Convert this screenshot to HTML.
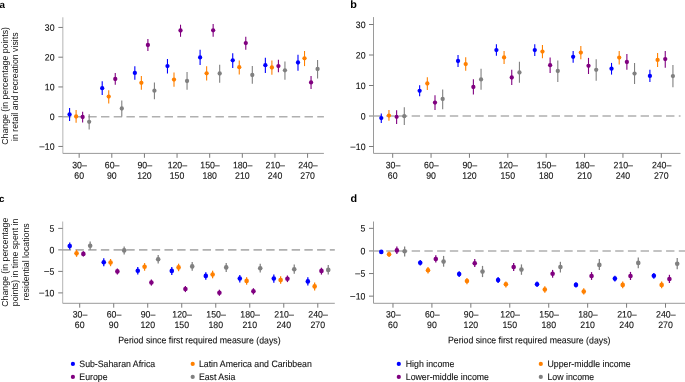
<!DOCTYPE html>
<html><head><meta charset="utf-8"><style>
html,body{margin:0;padding:0;background:#fff;}
svg{display:block;}
#w{will-change:transform;width:685px;height:382px;overflow:hidden;}
text{font-family:"Liberation Sans",sans-serif;}
</style></head><body>
<div id="w"><svg width="685" height="382" viewBox="0 0 685 382" font-family="Liberation Sans, sans-serif" font-size="8.76" fill="#111111">
<style>text{stroke:#111111;stroke-width:0.1px;} text.r{stroke:none;}</style>
<rect width="685" height="382" fill="#fff"/>
<path d="M62.85 17.3V153.4" fill="none" stroke="#b4b4b4" stroke-width="1"/>
<path d="M62.85 153.4H323.9" fill="none" stroke="#9a9a9a" stroke-width="1"/>
<path d="M58.35 27.45H62.85" stroke="#7a7a7a" stroke-width="1"/>
<text transform="translate(54.55 30.7) rotate(0.03) scale(1 1.07)" text-anchor="end">30</text>
<path d="M58.35 57.2H62.85" stroke="#7a7a7a" stroke-width="1"/>
<text transform="translate(54.55 60.45) rotate(0.03) scale(1 1.07)" text-anchor="end">20</text>
<path d="M58.35 86.95H62.85" stroke="#7a7a7a" stroke-width="1"/>
<text transform="translate(54.55 90.2) rotate(0.03) scale(1 1.07)" text-anchor="end">10</text>
<path d="M58.35 116.7H62.85" stroke="#7a7a7a" stroke-width="1"/>
<text transform="translate(54.55 119.95) rotate(0.03) scale(1 1.07)" text-anchor="end">0</text>
<path d="M58.35 146.45H62.85" stroke="#7a7a7a" stroke-width="1"/>
<text transform="translate(54.55 149.7) rotate(0.03) scale(1 1.07)" text-anchor="end"><tspan dy="-0.5">–</tspan><tspan dy="0.5" dx="0.5">10</tspan></text>
<path d="M79.17 153.4V157.8" stroke="#7a7a7a" stroke-width="1"/>
<text transform="translate(79.47 168.25) rotate(0.03) scale(1 1.07)" text-anchor="middle">30–</text>
<text transform="translate(79.17 178.7) rotate(0.03) scale(1 1.07)" text-anchor="middle">60</text>
<path d="M111.8 153.4V157.8" stroke="#7a7a7a" stroke-width="1"/>
<text transform="translate(112.1 168.25) rotate(0.03) scale(1 1.07)" text-anchor="middle">60–</text>
<text transform="translate(111.8 178.7) rotate(0.03) scale(1 1.07)" text-anchor="middle">90</text>
<path d="M144.43 153.4V157.8" stroke="#7a7a7a" stroke-width="1"/>
<text transform="translate(144.73 168.25) rotate(0.03) scale(1 1.07)" text-anchor="middle">90–</text>
<text transform="translate(144.43 178.7) rotate(0.03) scale(1 1.07)" text-anchor="middle">120</text>
<path d="M177.06 153.4V157.8" stroke="#7a7a7a" stroke-width="1"/>
<text transform="translate(177.36 168.25) rotate(0.03) scale(1 1.07)" text-anchor="middle">120–</text>
<text transform="translate(177.06 178.7) rotate(0.03) scale(1 1.07)" text-anchor="middle">150</text>
<path d="M209.69 153.4V157.8" stroke="#7a7a7a" stroke-width="1"/>
<text transform="translate(209.99 168.25) rotate(0.03) scale(1 1.07)" text-anchor="middle">150–</text>
<text transform="translate(209.69 178.7) rotate(0.03) scale(1 1.07)" text-anchor="middle">180</text>
<path d="M242.32 153.4V157.8" stroke="#7a7a7a" stroke-width="1"/>
<text transform="translate(242.62 168.25) rotate(0.03) scale(1 1.07)" text-anchor="middle">180–</text>
<text transform="translate(242.32 178.7) rotate(0.03) scale(1 1.07)" text-anchor="middle">210</text>
<path d="M274.95 153.4V157.8" stroke="#7a7a7a" stroke-width="1"/>
<text transform="translate(275.25 168.25) rotate(0.03) scale(1 1.07)" text-anchor="middle">210–</text>
<text transform="translate(274.95 178.7) rotate(0.03) scale(1 1.07)" text-anchor="middle">240</text>
<path d="M307.58 153.4V157.8" stroke="#7a7a7a" stroke-width="1"/>
<text transform="translate(307.88 168.25) rotate(0.03) scale(1 1.07)" text-anchor="middle">240–</text>
<text transform="translate(307.58 178.7) rotate(0.03) scale(1 1.07)" text-anchor="middle">270</text>
<path d="M62.85 116.7H323.9" stroke="#b0b0b0" stroke-width="1.6" stroke-dasharray="8.4 4.32"/>
<path d="M69.58 108.1V120.9" stroke="#0000ff" stroke-width="1.1"/>
<circle cx="69.58" cy="114.4" r="2.15" fill="#0000ff"/>
<path d="M76.1 110.1V122.7" stroke="#ff8000" stroke-width="1.1"/>
<circle cx="76.1" cy="116.5" r="2.15" fill="#ff8000"/>
<path d="M82.63 111.7V122.5" stroke="#800080" stroke-width="1.1"/>
<circle cx="82.63" cy="117" r="2.15" fill="#800080"/>
<path d="M89.16 114.2V129.6" stroke="#808080" stroke-width="1.1"/>
<circle cx="89.16" cy="121.8" r="2.15" fill="#808080"/>
<path d="M102.21 81.3V95.1" stroke="#0000ff" stroke-width="1.1"/>
<circle cx="102.21" cy="88.2" r="2.15" fill="#0000ff"/>
<path d="M108.73 90.3V103.5" stroke="#ff8000" stroke-width="1.1"/>
<circle cx="108.73" cy="96.6" r="2.15" fill="#ff8000"/>
<path d="M115.26 73.1V84.7" stroke="#800080" stroke-width="1.1"/>
<circle cx="115.26" cy="79" r="2.15" fill="#800080"/>
<path d="M121.79 100.4V116.5" stroke="#808080" stroke-width="1.1"/>
<circle cx="121.79" cy="108.5" r="2.15" fill="#808080"/>
<path d="M134.84 66.2V79.8" stroke="#0000ff" stroke-width="1.1"/>
<circle cx="134.84" cy="72.9" r="2.15" fill="#0000ff"/>
<path d="M141.36 76.1V89.7" stroke="#ff8000" stroke-width="1.1"/>
<circle cx="141.36" cy="82.8" r="2.15" fill="#ff8000"/>
<path d="M147.89 38.9V51" stroke="#800080" stroke-width="1.1"/>
<circle cx="147.89" cy="45" r="2.15" fill="#800080"/>
<path d="M154.42 82.4V99.3" stroke="#808080" stroke-width="1.1"/>
<circle cx="154.42" cy="90.7" r="2.15" fill="#808080"/>
<path d="M167.47 59V73.5" stroke="#0000ff" stroke-width="1.1"/>
<circle cx="167.47" cy="66.1" r="2.15" fill="#0000ff"/>
<path d="M174 72.4V86.7" stroke="#ff8000" stroke-width="1.1"/>
<circle cx="174" cy="79.6" r="2.15" fill="#ff8000"/>
<path d="M180.52 24.7V36.8" stroke="#800080" stroke-width="1.1"/>
<circle cx="180.52" cy="30.5" r="2.15" fill="#800080"/>
<path d="M187.05 72V89.8" stroke="#808080" stroke-width="1.1"/>
<circle cx="187.05" cy="81" r="2.15" fill="#808080"/>
<path d="M200.1 49.8V64.9" stroke="#0000ff" stroke-width="1.1"/>
<circle cx="200.1" cy="57.4" r="2.15" fill="#0000ff"/>
<path d="M206.63 66.2V80.6" stroke="#ff8000" stroke-width="1.1"/>
<circle cx="206.63" cy="73.3" r="2.15" fill="#ff8000"/>
<path d="M213.15 24V36.8" stroke="#800080" stroke-width="1.1"/>
<circle cx="213.15" cy="30.3" r="2.15" fill="#800080"/>
<path d="M219.68 64.7V82.7" stroke="#808080" stroke-width="1.1"/>
<circle cx="219.68" cy="73.5" r="2.15" fill="#808080"/>
<path d="M232.73 53.2V67.9" stroke="#0000ff" stroke-width="1.1"/>
<circle cx="232.73" cy="60.3" r="2.15" fill="#0000ff"/>
<path d="M239.26 60.5V74.6" stroke="#ff8000" stroke-width="1.1"/>
<circle cx="239.26" cy="67.2" r="2.15" fill="#ff8000"/>
<path d="M245.78 36.8V49.8" stroke="#800080" stroke-width="1.1"/>
<circle cx="245.78" cy="43.1" r="2.15" fill="#800080"/>
<path d="M252.31 66V83.8" stroke="#808080" stroke-width="1.1"/>
<circle cx="252.31" cy="75" r="2.15" fill="#808080"/>
<path d="M265.36 57.7V73" stroke="#0000ff" stroke-width="1.1"/>
<circle cx="265.36" cy="65.2" r="2.15" fill="#0000ff"/>
<path d="M271.89 60.6V74.7" stroke="#ff8000" stroke-width="1.1"/>
<circle cx="271.89" cy="67.5" r="2.15" fill="#ff8000"/>
<path d="M278.42 59.8V72.3" stroke="#800080" stroke-width="1.1"/>
<circle cx="278.42" cy="66.1" r="2.15" fill="#800080"/>
<path d="M284.94 61.4V79.7" stroke="#808080" stroke-width="1.1"/>
<circle cx="284.94" cy="70.3" r="2.15" fill="#808080"/>
<path d="M297.99 54.7V70.7" stroke="#0000ff" stroke-width="1.1"/>
<circle cx="297.99" cy="62.5" r="2.15" fill="#0000ff"/>
<path d="M304.52 51V66.1" stroke="#ff8000" stroke-width="1.1"/>
<circle cx="304.52" cy="58.3" r="2.15" fill="#ff8000"/>
<path d="M311.05 76.1V89.1" stroke="#800080" stroke-width="1.1"/>
<circle cx="311.05" cy="82.4" r="2.15" fill="#800080"/>
<path d="M317.57 60V78.6" stroke="#808080" stroke-width="1.1"/>
<circle cx="317.57" cy="69" r="2.15" fill="#808080"/>
<path d="M373.5 17.1V153.4" fill="none" stroke="#9a9a9a" stroke-width="1"/>
<path d="M373.5 153.4H680.5" fill="none" stroke="#9a9a9a" stroke-width="1"/>
<path d="M369 24.5H373.5" stroke="#7a7a7a" stroke-width="1"/>
<text transform="translate(365.6 28.05) rotate(0.03) scale(1 1.07)" text-anchor="end">30</text>
<path d="M369 55H373.5" stroke="#7a7a7a" stroke-width="1"/>
<text transform="translate(365.6 58.55) rotate(0.03) scale(1 1.07)" text-anchor="end">20</text>
<path d="M369 85.5H373.5" stroke="#7a7a7a" stroke-width="1"/>
<text transform="translate(365.6 89.05) rotate(0.03) scale(1 1.07)" text-anchor="end">10</text>
<path d="M369 116H373.5" stroke="#7a7a7a" stroke-width="1"/>
<text transform="translate(365.6 119.55) rotate(0.03) scale(1 1.07)" text-anchor="end">0</text>
<path d="M369 146.5H373.5" stroke="#7a7a7a" stroke-width="1"/>
<text transform="translate(365.6 150.05) rotate(0.03) scale(1 1.07)" text-anchor="end"><tspan dy="-0.5">–</tspan><tspan dy="0.5" dx="0.5">10</tspan></text>
<path d="M392.69 153.4V157.8" stroke="#7a7a7a" stroke-width="1"/>
<text transform="translate(392.99 168.25) rotate(0.03) scale(1 1.07)" text-anchor="middle">30–</text>
<text transform="translate(392.69 178.7) rotate(0.03) scale(1 1.07)" text-anchor="middle">60</text>
<path d="M431.06 153.4V157.8" stroke="#7a7a7a" stroke-width="1"/>
<text transform="translate(431.36 168.25) rotate(0.03) scale(1 1.07)" text-anchor="middle">60–</text>
<text transform="translate(431.06 178.7) rotate(0.03) scale(1 1.07)" text-anchor="middle">90</text>
<path d="M469.44 153.4V157.8" stroke="#7a7a7a" stroke-width="1"/>
<text transform="translate(469.74 168.25) rotate(0.03) scale(1 1.07)" text-anchor="middle">90–</text>
<text transform="translate(469.44 178.7) rotate(0.03) scale(1 1.07)" text-anchor="middle">120</text>
<path d="M507.81 153.4V157.8" stroke="#7a7a7a" stroke-width="1"/>
<text transform="translate(508.11 168.25) rotate(0.03) scale(1 1.07)" text-anchor="middle">120–</text>
<text transform="translate(507.81 178.7) rotate(0.03) scale(1 1.07)" text-anchor="middle">150</text>
<path d="M546.19 153.4V157.8" stroke="#7a7a7a" stroke-width="1"/>
<text transform="translate(546.49 168.25) rotate(0.03) scale(1 1.07)" text-anchor="middle">150–</text>
<text transform="translate(546.19 178.7) rotate(0.03) scale(1 1.07)" text-anchor="middle">180</text>
<path d="M584.56 153.4V157.8" stroke="#7a7a7a" stroke-width="1"/>
<text transform="translate(584.86 168.25) rotate(0.03) scale(1 1.07)" text-anchor="middle">180–</text>
<text transform="translate(584.56 178.7) rotate(0.03) scale(1 1.07)" text-anchor="middle">210</text>
<path d="M622.94 153.4V157.8" stroke="#7a7a7a" stroke-width="1"/>
<text transform="translate(623.24 168.25) rotate(0.03) scale(1 1.07)" text-anchor="middle">210–</text>
<text transform="translate(622.94 178.7) rotate(0.03) scale(1 1.07)" text-anchor="middle">240</text>
<path d="M661.31 153.4V157.8" stroke="#7a7a7a" stroke-width="1"/>
<text transform="translate(661.61 168.25) rotate(0.03) scale(1 1.07)" text-anchor="middle">240–</text>
<text transform="translate(661.31 178.7) rotate(0.03) scale(1 1.07)" text-anchor="middle">270</text>
<path d="M373.5 116H680.5" stroke="#b0b0b0" stroke-width="1.6" stroke-dasharray="8.4 4.32"/>
<path d="M381.28 113.5V122.9" stroke="#0000ff" stroke-width="1.1"/>
<circle cx="381.28" cy="118.1" r="2.15" fill="#0000ff"/>
<path d="M388.95 109.9V120.8" stroke="#ff8000" stroke-width="1.1"/>
<circle cx="388.95" cy="115.6" r="2.15" fill="#ff8000"/>
<path d="M396.62 110.3V123.9" stroke="#800080" stroke-width="1.1"/>
<circle cx="396.62" cy="116.8" r="2.15" fill="#800080"/>
<path d="M404.3 107.2V125" stroke="#808080" stroke-width="1.1"/>
<circle cx="404.3" cy="116.2" r="2.15" fill="#808080"/>
<path d="M419.65 85.2V96.3" stroke="#0000ff" stroke-width="1.1"/>
<circle cx="419.65" cy="90.8" r="2.15" fill="#0000ff"/>
<path d="M427.33 77.2V90" stroke="#ff8000" stroke-width="1.1"/>
<circle cx="427.33" cy="83.5" r="2.15" fill="#ff8000"/>
<path d="M435 95.2V109.9" stroke="#800080" stroke-width="1.1"/>
<circle cx="435" cy="102.6" r="2.15" fill="#800080"/>
<path d="M442.68 89.4V109.3" stroke="#808080" stroke-width="1.1"/>
<circle cx="442.68" cy="99" r="2.15" fill="#808080"/>
<path d="M458.03 55.1V66.9" stroke="#0000ff" stroke-width="1.1"/>
<circle cx="458.03" cy="61" r="2.15" fill="#0000ff"/>
<path d="M465.7 57.2V70.8" stroke="#ff8000" stroke-width="1.1"/>
<circle cx="465.7" cy="64.1" r="2.15" fill="#ff8000"/>
<path d="M473.38 79.2V94.5" stroke="#800080" stroke-width="1.1"/>
<circle cx="473.38" cy="87" r="2.15" fill="#800080"/>
<path d="M481.05 68.7V89.7" stroke="#808080" stroke-width="1.1"/>
<circle cx="481.05" cy="79.4" r="2.15" fill="#808080"/>
<path d="M496.4 44.2V55.8" stroke="#0000ff" stroke-width="1.1"/>
<circle cx="496.4" cy="50.1" r="2.15" fill="#0000ff"/>
<path d="M504.08 50.9V64.1" stroke="#ff8000" stroke-width="1.1"/>
<circle cx="504.08" cy="57.4" r="2.15" fill="#ff8000"/>
<path d="M511.75 69.8V85.1" stroke="#800080" stroke-width="1.1"/>
<circle cx="511.75" cy="77.5" r="2.15" fill="#800080"/>
<path d="M519.43 61.8V82.8" stroke="#808080" stroke-width="1.1"/>
<circle cx="519.43" cy="72.5" r="2.15" fill="#808080"/>
<path d="M534.77 44.2V56" stroke="#0000ff" stroke-width="1.1"/>
<circle cx="534.77" cy="50.1" r="2.15" fill="#0000ff"/>
<path d="M542.45 45.1V58.3" stroke="#ff8000" stroke-width="1.1"/>
<circle cx="542.45" cy="51.6" r="2.15" fill="#ff8000"/>
<path d="M550.12 57.4V72.9" stroke="#800080" stroke-width="1.1"/>
<circle cx="550.12" cy="65.2" r="2.15" fill="#800080"/>
<path d="M557.8 60.4V81.9" stroke="#808080" stroke-width="1.1"/>
<circle cx="557.8" cy="71" r="2.15" fill="#808080"/>
<path d="M573.15 50.9V62.7" stroke="#0000ff" stroke-width="1.1"/>
<circle cx="573.15" cy="56.8" r="2.15" fill="#0000ff"/>
<path d="M580.83 45.9V59.3" stroke="#ff8000" stroke-width="1.1"/>
<circle cx="580.83" cy="52.6" r="2.15" fill="#ff8000"/>
<path d="M588.5 57.9V74" stroke="#800080" stroke-width="1.1"/>
<circle cx="588.5" cy="65.8" r="2.15" fill="#800080"/>
<path d="M596.18 59.3V80.7" stroke="#808080" stroke-width="1.1"/>
<circle cx="596.18" cy="69.8" r="2.15" fill="#808080"/>
<path d="M611.52 62.9V74.6" stroke="#0000ff" stroke-width="1.1"/>
<circle cx="611.52" cy="68.7" r="2.15" fill="#0000ff"/>
<path d="M619.2 50.9V64.5" stroke="#ff8000" stroke-width="1.1"/>
<circle cx="619.2" cy="57.6" r="2.15" fill="#ff8000"/>
<path d="M626.88 54.1V69.8" stroke="#800080" stroke-width="1.1"/>
<circle cx="626.88" cy="62" r="2.15" fill="#800080"/>
<path d="M634.55 62.9V84" stroke="#808080" stroke-width="1.1"/>
<circle cx="634.55" cy="73.6" r="2.15" fill="#808080"/>
<path d="M649.9 69.8V81.9" stroke="#0000ff" stroke-width="1.1"/>
<circle cx="649.9" cy="75.9" r="2.15" fill="#0000ff"/>
<path d="M657.58 53V67.1" stroke="#ff8000" stroke-width="1.1"/>
<circle cx="657.58" cy="59.9" r="2.15" fill="#ff8000"/>
<path d="M665.25 50.9V67.7" stroke="#800080" stroke-width="1.1"/>
<circle cx="665.25" cy="59.1" r="2.15" fill="#800080"/>
<path d="M672.93 65V87.2" stroke="#808080" stroke-width="1.1"/>
<circle cx="672.93" cy="76.1" r="2.15" fill="#808080"/>
<path d="M62.7 221.5V303.3" fill="none" stroke="#b4b4b4" stroke-width="1"/>
<path d="M62.7 303.3H334.8" fill="none" stroke="#9a9a9a" stroke-width="1"/>
<path d="M58.2 228.4H62.7" stroke="#7a7a7a" stroke-width="1"/>
<text transform="translate(54.4 231.65) rotate(0.03) scale(1 1.07)" text-anchor="end">5</text>
<path d="M58.2 249.9H62.7" stroke="#7a7a7a" stroke-width="1"/>
<text transform="translate(54.4 253.15) rotate(0.03) scale(1 1.07)" text-anchor="end">0</text>
<path d="M58.2 271.4H62.7" stroke="#7a7a7a" stroke-width="1"/>
<text transform="translate(54.4 274.65) rotate(0.03) scale(1 1.07)" text-anchor="end"><tspan dy="-0.5">–</tspan><tspan dy="0.5" dx="0.5">5</tspan></text>
<path d="M58.2 292.9H62.7" stroke="#7a7a7a" stroke-width="1"/>
<text transform="translate(54.4 296.15) rotate(0.03) scale(1 1.07)" text-anchor="end"><tspan dy="-0.5">–</tspan><tspan dy="0.5" dx="0.5">10</tspan></text>
<path d="M79.71 303.3V307.7" stroke="#7a7a7a" stroke-width="1"/>
<text transform="translate(80.01 317.45) rotate(0.03) scale(1 1.07)" text-anchor="middle">30–</text>
<text transform="translate(79.71 327.95) rotate(0.03) scale(1 1.07)" text-anchor="middle">60</text>
<path d="M113.72 303.3V307.7" stroke="#7a7a7a" stroke-width="1"/>
<text transform="translate(114.02 317.45) rotate(0.03) scale(1 1.07)" text-anchor="middle">60–</text>
<text transform="translate(113.72 327.95) rotate(0.03) scale(1 1.07)" text-anchor="middle">90</text>
<path d="M147.73 303.3V307.7" stroke="#7a7a7a" stroke-width="1"/>
<text transform="translate(148.03 317.45) rotate(0.03) scale(1 1.07)" text-anchor="middle">90–</text>
<text transform="translate(147.73 327.95) rotate(0.03) scale(1 1.07)" text-anchor="middle">120</text>
<path d="M181.74 303.3V307.7" stroke="#7a7a7a" stroke-width="1"/>
<text transform="translate(182.04 317.45) rotate(0.03) scale(1 1.07)" text-anchor="middle">120–</text>
<text transform="translate(181.74 327.95) rotate(0.03) scale(1 1.07)" text-anchor="middle">150</text>
<path d="M215.76 303.3V307.7" stroke="#7a7a7a" stroke-width="1"/>
<text transform="translate(216.06 317.45) rotate(0.03) scale(1 1.07)" text-anchor="middle">150–</text>
<text transform="translate(215.76 327.95) rotate(0.03) scale(1 1.07)" text-anchor="middle">180</text>
<path d="M249.77 303.3V307.7" stroke="#7a7a7a" stroke-width="1"/>
<text transform="translate(250.07 317.45) rotate(0.03) scale(1 1.07)" text-anchor="middle">180–</text>
<text transform="translate(249.77 327.95) rotate(0.03) scale(1 1.07)" text-anchor="middle">210</text>
<path d="M283.78 303.3V307.7" stroke="#7a7a7a" stroke-width="1"/>
<text transform="translate(284.08 317.45) rotate(0.03) scale(1 1.07)" text-anchor="middle">210–</text>
<text transform="translate(283.78 327.95) rotate(0.03) scale(1 1.07)" text-anchor="middle">240</text>
<path d="M317.79 303.3V307.7" stroke="#7a7a7a" stroke-width="1"/>
<text transform="translate(318.09 317.45) rotate(0.03) scale(1 1.07)" text-anchor="middle">240–</text>
<text transform="translate(317.79 327.95) rotate(0.03) scale(1 1.07)" text-anchor="middle">270</text>
<path d="M62.7 249.9H334.8" stroke="#b0b0b0" stroke-width="1.6" stroke-dasharray="8.4 4.32"/>
<path d="M69.75 242.4V249.4" stroke="#0000ff" stroke-width="1.25"/>
<circle cx="69.75" cy="246" r="2.3" fill="#0000ff"/>
<path d="M76.56 249.8V256.8" stroke="#ff8000" stroke-width="1.25"/>
<circle cx="76.56" cy="253.3" r="2.3" fill="#ff8000"/>
<path d="M83.36 251.2V256.6" stroke="#800080" stroke-width="1.25"/>
<circle cx="83.36" cy="253.9" r="2.3" fill="#800080"/>
<path d="M90.16 241.5V249.8" stroke="#808080" stroke-width="1.25"/>
<circle cx="90.16" cy="245.7" r="2.3" fill="#808080"/>
<path d="M103.77 258.3V266.2" stroke="#0000ff" stroke-width="1.25"/>
<circle cx="103.77" cy="262.2" r="2.3" fill="#0000ff"/>
<path d="M110.57 259V266.2" stroke="#ff8000" stroke-width="1.25"/>
<circle cx="110.57" cy="262.5" r="2.3" fill="#ff8000"/>
<path d="M117.37 268.5V274.5" stroke="#800080" stroke-width="1.25"/>
<circle cx="117.37" cy="271.4" r="2.3" fill="#800080"/>
<path d="M124.17 246.5V254.6" stroke="#808080" stroke-width="1.25"/>
<circle cx="124.17" cy="250.4" r="2.3" fill="#808080"/>
<path d="M137.78 267V274.6" stroke="#0000ff" stroke-width="1.25"/>
<circle cx="137.78" cy="270.7" r="2.3" fill="#0000ff"/>
<path d="M144.58 263.1V270.7" stroke="#ff8000" stroke-width="1.25"/>
<circle cx="144.58" cy="266.8" r="2.3" fill="#ff8000"/>
<path d="M151.38 279.5V285.6" stroke="#800080" stroke-width="1.25"/>
<circle cx="151.38" cy="282.5" r="2.3" fill="#800080"/>
<path d="M158.19 255V263.5" stroke="#808080" stroke-width="1.25"/>
<circle cx="158.19" cy="259.2" r="2.3" fill="#808080"/>
<path d="M171.79 267V274.9" stroke="#0000ff" stroke-width="1.25"/>
<circle cx="171.79" cy="270.9" r="2.3" fill="#0000ff"/>
<path d="M178.59 263.7V271.2" stroke="#ff8000" stroke-width="1.25"/>
<circle cx="178.59" cy="267.4" r="2.3" fill="#ff8000"/>
<path d="M185.4 286V292.1" stroke="#800080" stroke-width="1.25"/>
<circle cx="185.4" cy="289" r="2.3" fill="#800080"/>
<path d="M192.2 262V270.7" stroke="#808080" stroke-width="1.25"/>
<circle cx="192.2" cy="266.4" r="2.3" fill="#808080"/>
<path d="M205.8 272.3V279.8" stroke="#0000ff" stroke-width="1.25"/>
<circle cx="205.8" cy="275.9" r="2.3" fill="#0000ff"/>
<path d="M212.61 270.7V278.3" stroke="#ff8000" stroke-width="1.25"/>
<circle cx="212.61" cy="274.5" r="2.3" fill="#ff8000"/>
<path d="M219.41 289.7V295.8" stroke="#800080" stroke-width="1.25"/>
<circle cx="219.41" cy="292.7" r="2.3" fill="#800080"/>
<path d="M226.21 263.1V272" stroke="#808080" stroke-width="1.25"/>
<circle cx="226.21" cy="267.4" r="2.3" fill="#808080"/>
<path d="M239.81 274.9V282.5" stroke="#0000ff" stroke-width="1.25"/>
<circle cx="239.81" cy="278.5" r="2.3" fill="#0000ff"/>
<path d="M246.62 277.2V284.7" stroke="#ff8000" stroke-width="1.25"/>
<circle cx="246.62" cy="280.9" r="2.3" fill="#ff8000"/>
<path d="M253.42 288.2V294.5" stroke="#800080" stroke-width="1.25"/>
<circle cx="253.42" cy="291.2" r="2.3" fill="#800080"/>
<path d="M260.22 263.7V272.5" stroke="#808080" stroke-width="1.25"/>
<circle cx="260.22" cy="268.3" r="2.3" fill="#808080"/>
<path d="M273.83 274.6V282.7" stroke="#0000ff" stroke-width="1.25"/>
<circle cx="273.83" cy="278.5" r="2.3" fill="#0000ff"/>
<path d="M280.63 276.2V283.8" stroke="#ff8000" stroke-width="1.25"/>
<circle cx="280.63" cy="280.1" r="2.3" fill="#ff8000"/>
<path d="M287.43 275.5V282.1" stroke="#800080" stroke-width="1.25"/>
<circle cx="287.43" cy="278.8" r="2.3" fill="#800080"/>
<path d="M294.24 264.4V273.8" stroke="#808080" stroke-width="1.25"/>
<circle cx="294.24" cy="269.2" r="2.3" fill="#808080"/>
<path d="M307.84 277.2V285.6" stroke="#0000ff" stroke-width="1.25"/>
<circle cx="307.84" cy="281.4" r="2.3" fill="#0000ff"/>
<path d="M314.64 282.5V290.6" stroke="#ff8000" stroke-width="1.25"/>
<circle cx="314.64" cy="286.4" r="2.3" fill="#ff8000"/>
<path d="M321.45 267.7V274.6" stroke="#800080" stroke-width="1.25"/>
<circle cx="321.45" cy="270.9" r="2.3" fill="#800080"/>
<path d="M328.25 265.1V274.6" stroke="#808080" stroke-width="1.25"/>
<circle cx="328.25" cy="269.9" r="2.3" fill="#808080"/>
<path d="M373.5 221.5V303.3" fill="none" stroke="#9a9a9a" stroke-width="1"/>
<path d="M373.5 303.3H685" fill="none" stroke="#9a9a9a" stroke-width="1"/>
<path d="M369 228.35H373.5" stroke="#7a7a7a" stroke-width="1"/>
<text transform="translate(365.4 231.6) rotate(0.03) scale(1 1.07)" text-anchor="end">5</text>
<path d="M369 250.95H373.5" stroke="#7a7a7a" stroke-width="1"/>
<text transform="translate(365.4 254.2) rotate(0.03) scale(1 1.07)" text-anchor="end">0</text>
<path d="M369 273.55H373.5" stroke="#7a7a7a" stroke-width="1"/>
<text transform="translate(365.4 276.8) rotate(0.03) scale(1 1.07)" text-anchor="end"><tspan dy="-0.5">–</tspan><tspan dy="0.5" dx="0.5">5</tspan></text>
<path d="M369 296.15H373.5" stroke="#7a7a7a" stroke-width="1"/>
<text transform="translate(365.4 299.4) rotate(0.03) scale(1 1.07)" text-anchor="end"><tspan dy="-0.5">–</tspan><tspan dy="0.5" dx="0.5">10</tspan></text>
<path d="M392.97 303.3V307.7" stroke="#7a7a7a" stroke-width="1"/>
<text transform="translate(393.27 317.45) rotate(0.03) scale(1 1.07)" text-anchor="middle">30–</text>
<text transform="translate(392.97 327.95) rotate(0.03) scale(1 1.07)" text-anchor="middle">60</text>
<path d="M431.91 303.3V307.7" stroke="#7a7a7a" stroke-width="1"/>
<text transform="translate(432.21 317.45) rotate(0.03) scale(1 1.07)" text-anchor="middle">60–</text>
<text transform="translate(431.91 327.95) rotate(0.03) scale(1 1.07)" text-anchor="middle">90</text>
<path d="M470.84 303.3V307.7" stroke="#7a7a7a" stroke-width="1"/>
<text transform="translate(471.14 317.45) rotate(0.03) scale(1 1.07)" text-anchor="middle">90–</text>
<text transform="translate(470.84 327.95) rotate(0.03) scale(1 1.07)" text-anchor="middle">120</text>
<path d="M509.78 303.3V307.7" stroke="#7a7a7a" stroke-width="1"/>
<text transform="translate(510.08 317.45) rotate(0.03) scale(1 1.07)" text-anchor="middle">120–</text>
<text transform="translate(509.78 327.95) rotate(0.03) scale(1 1.07)" text-anchor="middle">150</text>
<path d="M548.72 303.3V307.7" stroke="#7a7a7a" stroke-width="1"/>
<text transform="translate(549.02 317.45) rotate(0.03) scale(1 1.07)" text-anchor="middle">150–</text>
<text transform="translate(548.72 327.95) rotate(0.03) scale(1 1.07)" text-anchor="middle">180</text>
<path d="M587.66 303.3V307.7" stroke="#7a7a7a" stroke-width="1"/>
<text transform="translate(587.96 317.45) rotate(0.03) scale(1 1.07)" text-anchor="middle">180–</text>
<text transform="translate(587.66 327.95) rotate(0.03) scale(1 1.07)" text-anchor="middle">210</text>
<path d="M626.59 303.3V307.7" stroke="#7a7a7a" stroke-width="1"/>
<text transform="translate(626.89 317.45) rotate(0.03) scale(1 1.07)" text-anchor="middle">210–</text>
<text transform="translate(626.59 327.95) rotate(0.03) scale(1 1.07)" text-anchor="middle">240</text>
<path d="M665.53 303.3V307.7" stroke="#7a7a7a" stroke-width="1"/>
<text transform="translate(665.83 317.45) rotate(0.03) scale(1 1.07)" text-anchor="middle">240–</text>
<text transform="translate(665.53 327.95) rotate(0.03) scale(1 1.07)" text-anchor="middle">270</text>
<path d="M373.5 250.95H685" stroke="#b0b0b0" stroke-width="1.6" stroke-dasharray="8.4 4.32"/>
<path d="M381.29 249.9V253.9" stroke="#0000ff" stroke-width="1.25"/>
<circle cx="381.29" cy="251.9" r="2.3" fill="#0000ff"/>
<path d="M389.07 251.6V256.9" stroke="#ff8000" stroke-width="1.25"/>
<circle cx="389.07" cy="254.2" r="2.3" fill="#ff8000"/>
<path d="M396.86 246.6V253.9" stroke="#800080" stroke-width="1.25"/>
<circle cx="396.86" cy="250.4" r="2.3" fill="#800080"/>
<path d="M404.65 246.6V256.5" stroke="#808080" stroke-width="1.25"/>
<circle cx="404.65" cy="251.3" r="2.3" fill="#808080"/>
<path d="M420.23 259.9V265.4" stroke="#0000ff" stroke-width="1.25"/>
<circle cx="420.23" cy="262.7" r="2.3" fill="#0000ff"/>
<path d="M428.01 267.1V273.6" stroke="#ff8000" stroke-width="1.25"/>
<circle cx="428.01" cy="270.3" r="2.3" fill="#ff8000"/>
<path d="M435.8 255.3V262.5" stroke="#800080" stroke-width="1.25"/>
<circle cx="435.8" cy="259" r="2.3" fill="#800080"/>
<path d="M443.59 255.9V266.7" stroke="#808080" stroke-width="1.25"/>
<circle cx="443.59" cy="261.6" r="2.3" fill="#808080"/>
<path d="M459.16 271.2V277.1" stroke="#0000ff" stroke-width="1.25"/>
<circle cx="459.16" cy="274.1" r="2.3" fill="#0000ff"/>
<path d="M466.95 278V284.3" stroke="#ff8000" stroke-width="1.25"/>
<circle cx="466.95" cy="281" r="2.3" fill="#ff8000"/>
<path d="M474.74 259.1V267" stroke="#800080" stroke-width="1.25"/>
<circle cx="474.74" cy="263.3" r="2.3" fill="#800080"/>
<path d="M482.52 265.9V277.1" stroke="#808080" stroke-width="1.25"/>
<circle cx="482.52" cy="271.6" r="2.3" fill="#808080"/>
<path d="M498.1 277.1V283" stroke="#0000ff" stroke-width="1.25"/>
<circle cx="498.1" cy="280.1" r="2.3" fill="#0000ff"/>
<path d="M505.89 281.4V287.5" stroke="#ff8000" stroke-width="1.25"/>
<circle cx="505.89" cy="284.3" r="2.3" fill="#ff8000"/>
<path d="M513.67 263.1V270.9" stroke="#800080" stroke-width="1.25"/>
<circle cx="513.67" cy="267" r="2.3" fill="#800080"/>
<path d="M521.46 264.4V274.8" stroke="#808080" stroke-width="1.25"/>
<circle cx="521.46" cy="269.6" r="2.3" fill="#808080"/>
<path d="M537.04 281.4V287.1" stroke="#0000ff" stroke-width="1.25"/>
<circle cx="537.04" cy="284.3" r="2.3" fill="#0000ff"/>
<path d="M544.83 286.2V292.8" stroke="#ff8000" stroke-width="1.25"/>
<circle cx="544.83" cy="289.5" r="2.3" fill="#ff8000"/>
<path d="M552.61 269.9V277.7" stroke="#800080" stroke-width="1.25"/>
<circle cx="552.61" cy="273.8" r="2.3" fill="#800080"/>
<path d="M560.4 261.8V272.5" stroke="#808080" stroke-width="1.25"/>
<circle cx="560.4" cy="267" r="2.3" fill="#808080"/>
<path d="M575.98 282.3V287.5" stroke="#0000ff" stroke-width="1.25"/>
<circle cx="575.98" cy="284.9" r="2.3" fill="#0000ff"/>
<path d="M583.76 288.2V294.5" stroke="#ff8000" stroke-width="1.25"/>
<circle cx="583.76" cy="291.5" r="2.3" fill="#ff8000"/>
<path d="M591.55 272.1V279.9" stroke="#800080" stroke-width="1.25"/>
<circle cx="591.55" cy="276" r="2.3" fill="#800080"/>
<path d="M599.34 259.1V270.1" stroke="#808080" stroke-width="1.25"/>
<circle cx="599.34" cy="264.9" r="2.3" fill="#808080"/>
<path d="M614.91 275.8V281.6" stroke="#0000ff" stroke-width="1.25"/>
<circle cx="614.91" cy="278.6" r="2.3" fill="#0000ff"/>
<path d="M622.7 281.6V288.3" stroke="#ff8000" stroke-width="1.25"/>
<circle cx="622.7" cy="284.9" r="2.3" fill="#ff8000"/>
<path d="M630.49 271.9V280" stroke="#800080" stroke-width="1.25"/>
<circle cx="630.49" cy="276" r="2.3" fill="#800080"/>
<path d="M638.27 257.4V268.3" stroke="#808080" stroke-width="1.25"/>
<circle cx="638.27" cy="262.9" r="2.3" fill="#808080"/>
<path d="M653.85 272.9V278.8" stroke="#0000ff" stroke-width="1.25"/>
<circle cx="653.85" cy="275.8" r="2.3" fill="#0000ff"/>
<path d="M661.64 281.4V288.2" stroke="#ff8000" stroke-width="1.25"/>
<circle cx="661.64" cy="284.9" r="2.3" fill="#ff8000"/>
<path d="M669.42 274.8V283" stroke="#800080" stroke-width="1.25"/>
<circle cx="669.42" cy="279" r="2.3" fill="#800080"/>
<path d="M677.21 258.1V269.2" stroke="#808080" stroke-width="1.25"/>
<circle cx="677.21" cy="263.7" r="2.3" fill="#808080"/>

<text class="r" x="-0.5" y="8.1" font-weight="bold" font-size="9.8" fill="#000" stroke="none" text-rendering="geometricPrecision">a</text>
<text class="r" x="350.2" y="8.0" font-weight="bold" font-size="10.8" fill="#000" stroke="none" text-rendering="geometricPrecision">b</text>
<text class="r" x="-1.1" y="201.9" font-weight="bold" font-size="9.8" fill="#000" stroke="none" text-rendering="geometricPrecision">c</text>
<text class="r" x="350.4" y="202.2" font-weight="bold" font-size="10.8" fill="#000" stroke="none" text-rendering="geometricPrecision">d</text>
<g transform="translate(7.7 85.9) rotate(-90)"><text class="r" x="0" y="0" text-anchor="middle">Change (in percentage points)</text></g>
<g transform="translate(17.7 86.7) rotate(-90)"><text class="r" x="0" y="0" text-anchor="middle">in retail and recreation visits</text></g>
<g transform="translate(8.4 262.2) rotate(-90)"><text class="r" x="0" y="0" text-anchor="middle">Change (in percentage</text></g>
<g transform="translate(18.4 262.4) rotate(-90)"><text class="r" x="0" y="0" text-anchor="middle">points) in time spent in</text></g>
<g transform="translate(28.8 261.8) rotate(-90)"><text class="r" x="0" y="0" text-anchor="middle">residential locations</text></g>
<text transform="translate(199.4 343.35) rotate(0.03) scale(1 1.07)" text-anchor="middle">Period since first required measure (days)</text>
<text transform="translate(529.2 343.35) rotate(0.03) scale(1 1.07)" text-anchor="middle">Period since first required measure (days)</text>

<circle cx="72.9" cy="363.9" r="2.1" fill="#0000ff"/>
<text transform="translate(79.3 366.95) rotate(0.03) scale(1 1.07)">Sub-Saharan Africa</text>
<circle cx="72.9" cy="376.9" r="2.1" fill="#800080"/>
<text transform="translate(79.3 380.0) rotate(0.03) scale(1 1.07)">Europe</text>
<circle cx="192.7" cy="363.9" r="2.1" fill="#ff8000"/>
<text transform="translate(198.9 366.95) rotate(0.03) scale(1 1.07)">Latin America and Caribbean</text>
<circle cx="192.7" cy="376.9" r="2.1" fill="#808080"/>
<text transform="translate(198.9 380.0) rotate(0.03) scale(1 1.07)">East Asia</text>
<circle cx="398.8" cy="363.9" r="2.1" fill="#0000ff"/>
<text transform="translate(405.8 366.95) rotate(0.03) scale(1 1.07)">High income</text>
<circle cx="398.8" cy="376.9" r="2.1" fill="#800080"/>
<text transform="translate(405.8 380.0) rotate(0.03) scale(1 1.07)">Lower-middle income</text>
<circle cx="540.8" cy="363.9" r="2.1" fill="#ff8000"/>
<text transform="translate(547.5 366.95) rotate(0.03) scale(1 1.07)">Upper-middle income</text>
<circle cx="540.8" cy="376.9" r="2.1" fill="#808080"/>
<text transform="translate(547.5 380.0) rotate(0.03) scale(1 1.07)">Low income</text>
</svg></div>
</body></html>
